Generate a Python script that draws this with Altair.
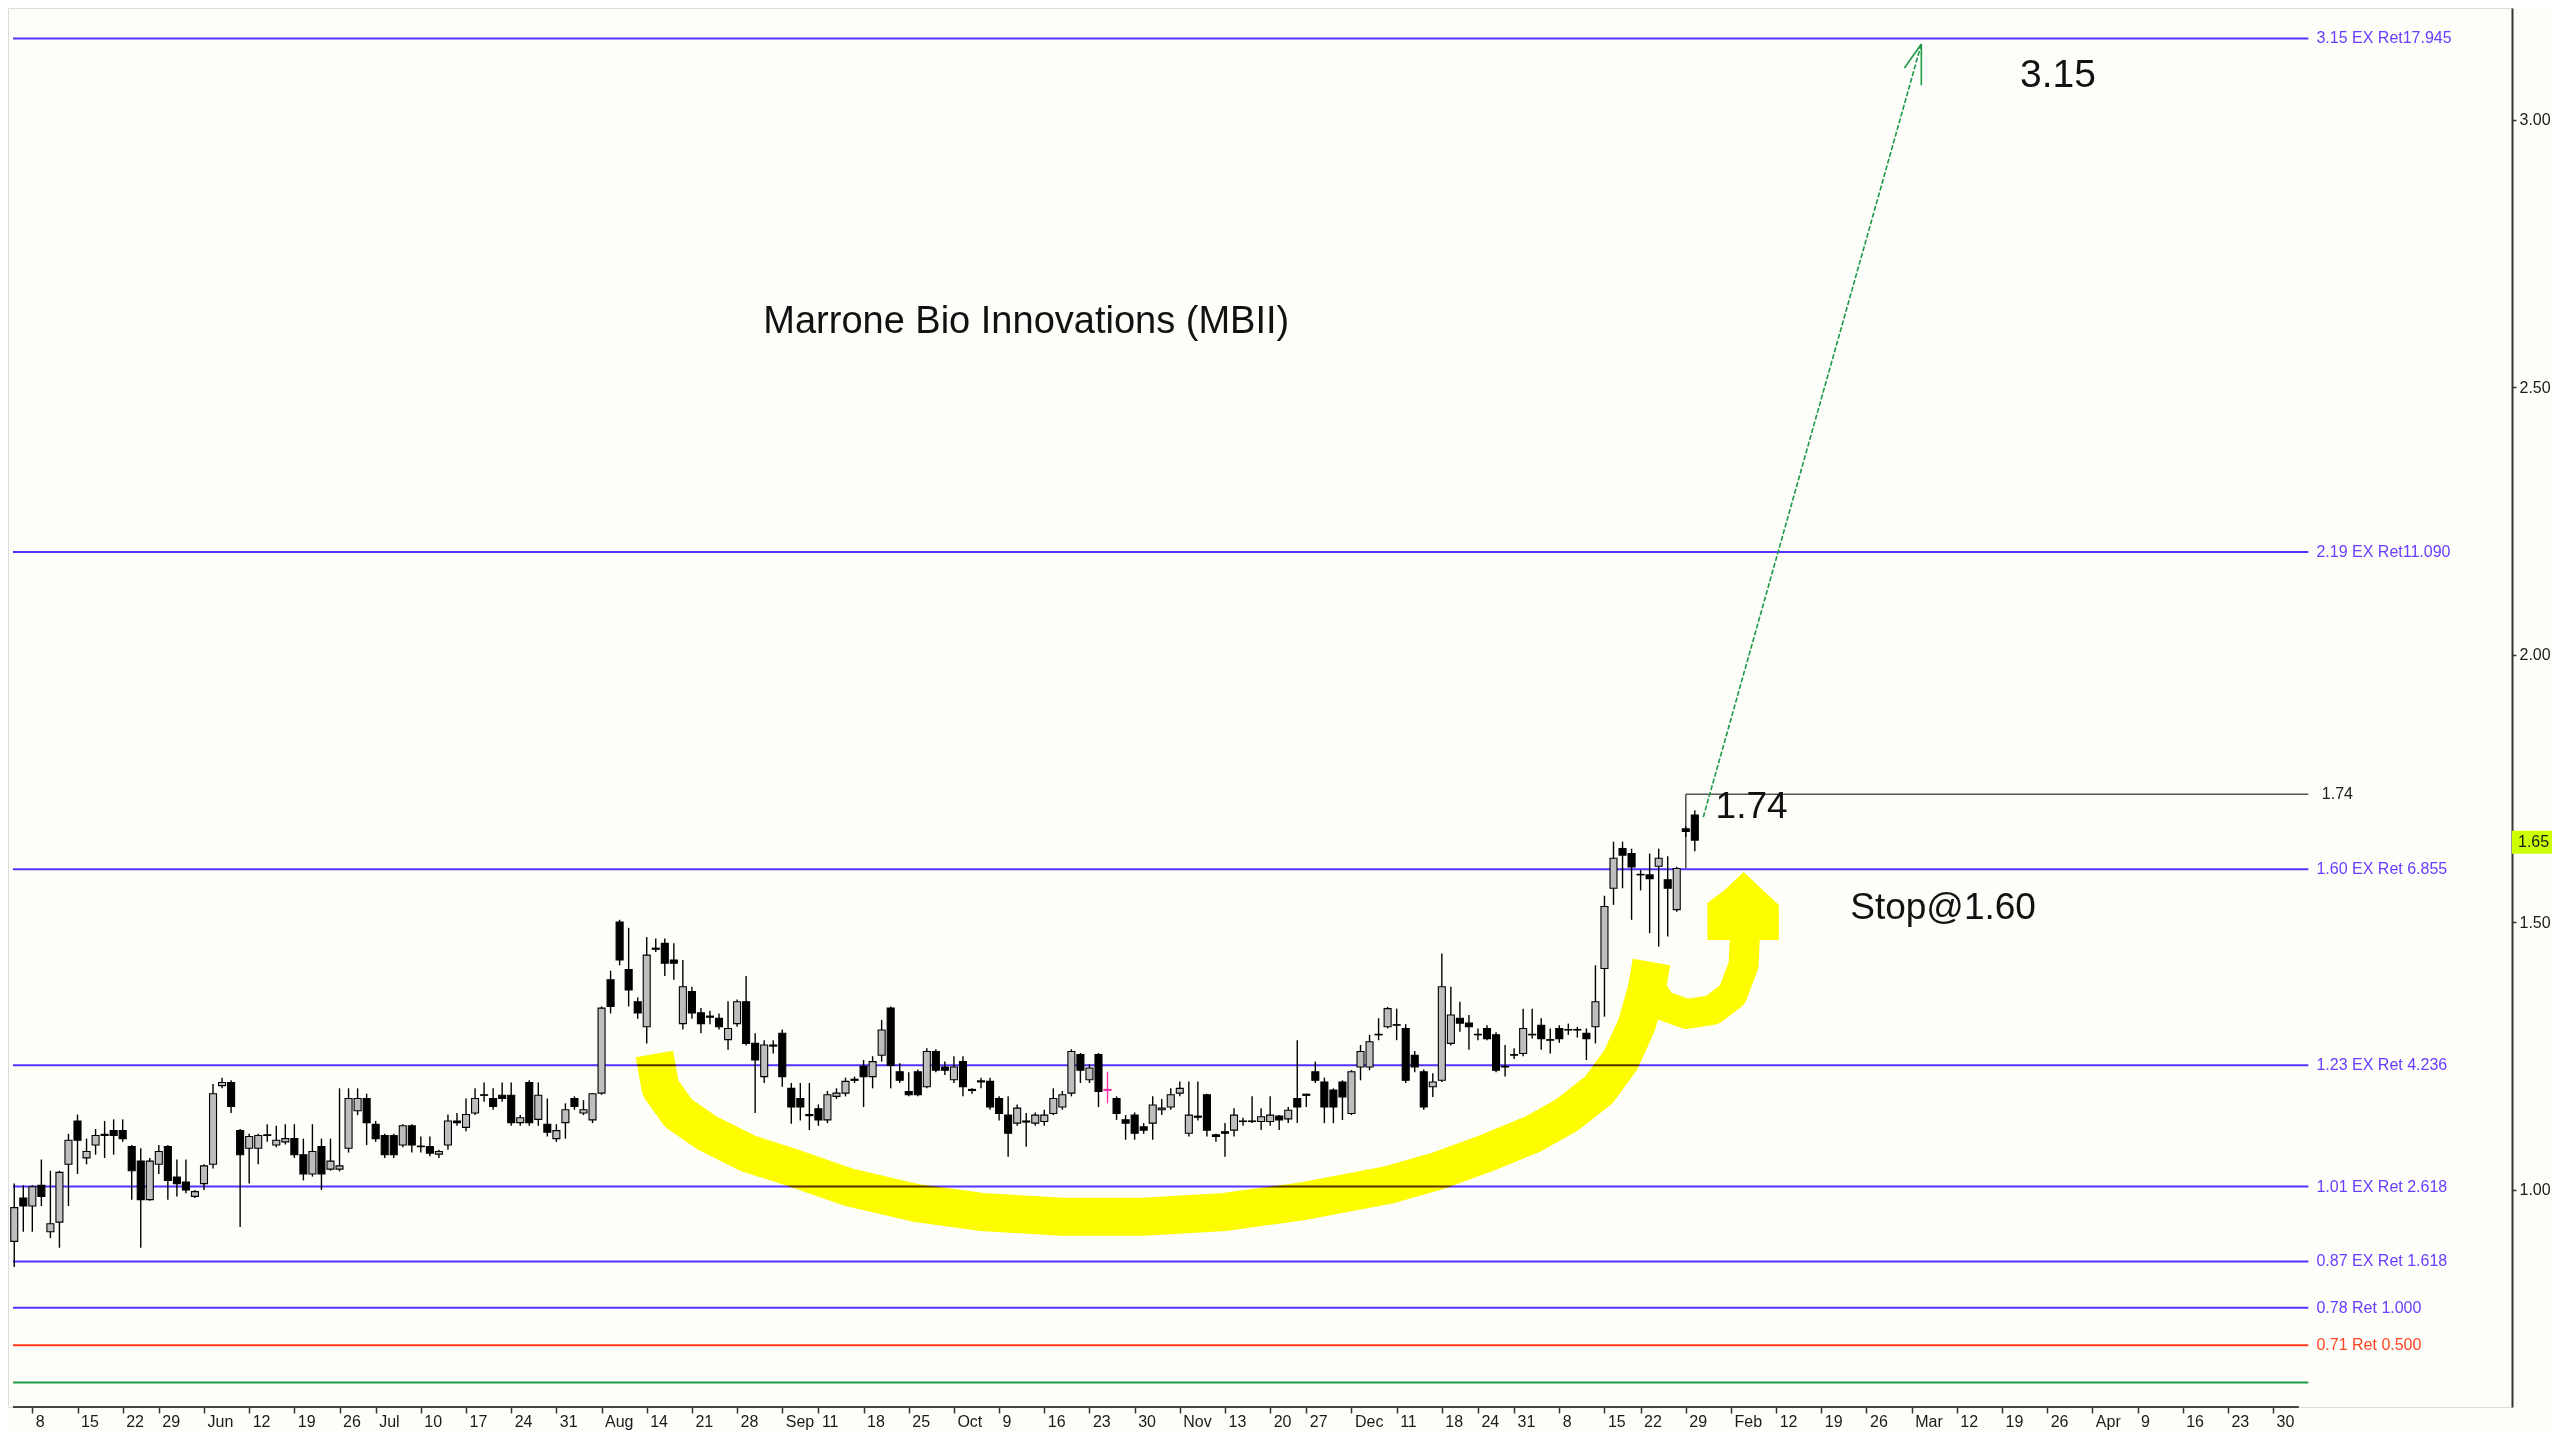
import json
import altair as alt
import pandas as pd

FONT = "Liberation Sans"

# ---------------- x axis: bar index (1 bar = 1 trading day, 0 = May 8 2017) ----------------
tick_idx = [0, 5, 10, 14, 19, 24, 29, 34, 38, 43, 48, 53, 58, 63, 68, 73, 78, 83, 87,
            92, 97, 102, 107, 112, 117, 122, 127, 132, 137, 141, 146, 151, 156, 160, 164, 169, 174, 178, 183,
            188, 193, 198, 203, 208, 213, 218, 223, 228, 233, 238, 243, 248]
tick_lab = ["8", "15", "22", "29", "Jun", "12", "19", "26", "Jul", "10", "17", "24", "31", "Aug", "14", "21", "28", "Sep", "11",
            "18", "25", "Oct", "9", "16", "23", "30", "Nov", "13", "20", "27", "Dec", "11", "18", "24", "31", "8", "15", "22", "29",
            "Feb", "12", "19", "26", "Mar", "12", "19", "26", "Apr", "9", "16", "23", "30"]
price_ticks = [1.0, 1.5, 2.0, 2.5, 3.0]

# ---------------- daily candles, bar index -2 .. 184 ----------------
first_bar = -2
opens = [
    0.904, 0.985, 0.970, 1.009, 0.922, 0.940, 1.048, 1.129, 1.060, 1.084, 1.104, 1.111, 1.111, 1.081, 1.054, 0.982,
    1.048, 1.081, 1.024, 1.015, 0.988, 1.012, 1.048, 1.195, 1.201, 1.111, 1.078, 1.078, 1.103, 1.084, 1.090, 1.096,
    1.066, 1.030, 1.081, 1.039, 1.039, 1.078, 1.148, 1.171, 1.123, 1.102, 1.102, 1.084, 1.120, 1.082, 1.081, 1.067,
    1.084, 1.129, 1.117, 1.144, 1.178, 1.171, 1.177, 1.177, 1.126, 1.201, 1.132, 1.123, 1.096, 1.126, 1.171, 1.144,
    1.131, 1.181,
    1.393, 1.501, 1.412, 1.352, 1.305, 1.452, 1.461, 1.430, 1.311, 1.371, 1.331, 1.325, 1.321, 1.281, 1.311, 1.352,
    1.274, 1.212, 1.271, 1.293, 1.190, 1.171, 1.141, 1.152, 1.131, 1.175, 1.181, 1.207, 1.231, 1.212, 1.252, 1.340,
    1.221, 1.184, 1.221, 1.193, 1.259, 1.230, 1.206, 1.240, 1.188, 1.204, 1.203, 1.171, 1.140, 1.125, 1.129, 1.125,
    1.128, 1.143, 1.155, 1.181, 1.253, 1.206, 1.253, 1.188, 1.171, 1.131, 1.140, 1.118, 1.125, 1.150, 1.155, 1.181,
    1.106, 1.138, 1.178, 1.103, 1.109, 1.112, 1.129, 1.129, 1.128, 1.128,
    1.138, 1.133, 1.171, 1.179, 1.221, 1.202, 1.187, 1.202, 1.143, 1.230, 1.230, 1.291, 1.305, 1.309, 1.302, 1.252,
    1.221, 1.193, 1.205, 1.274, 1.321, 1.312, 1.291, 1.302, 1.290, 1.231, 1.253, 1.255, 1.291, 1.308, 1.281, 1.302,
    1.300, 1.300, 1.293, 1.305, 1.414, 1.564, 1.638, 1.629, 1.590, 1.589, 1.605, 1.580, 1.524, 1.675, 1.701]
highs = [
    1.012, 1.009, 1.009, 1.057, 1.036, 1.036, 1.105, 1.141, 1.096, 1.114, 1.129, 1.132, 1.132, 1.084, 1.078, 1.060,
    1.084, 1.084, 1.057, 1.057, 1.000, 1.048, 1.198, 1.210, 1.205, 1.114, 1.105, 1.105, 1.123, 1.120, 1.123, 1.123,
    1.096, 1.123, 1.096, 1.096, 1.190, 1.190, 1.190, 1.180, 1.129, 1.105, 1.105, 1.123, 1.123, 1.100, 1.100, 1.075,
    1.141, 1.144, 1.171, 1.190, 1.201, 1.190, 1.201, 1.201, 1.140, 1.205, 1.201, 1.171, 1.123, 1.162, 1.175, 1.168,
    1.181, 1.343,
    1.410, 1.505, 1.490, 1.360, 1.473, 1.470, 1.470, 1.461, 1.430, 1.380, 1.340, 1.335, 1.330, 1.353, 1.356, 1.400,
    1.293, 1.280, 1.280, 1.300, 1.200, 1.200, 1.200, 1.160, 1.185, 1.190, 1.210, 1.212, 1.243, 1.250, 1.318, 1.343,
    1.237, 1.220, 1.225, 1.265, 1.263, 1.240, 1.250, 1.250, 1.190, 1.210, 1.210, 1.175, 1.175, 1.160, 1.144, 1.145,
    1.150, 1.190, 1.185, 1.263, 1.256, 1.235, 1.256, 1.221, 1.175, 1.140, 1.145, 1.125, 1.175, 1.170, 1.190, 1.203,
    1.203, 1.203, 1.180, 1.105, 1.125, 1.153, 1.135, 1.175, 1.153, 1.175,
    1.140, 1.155, 1.280, 1.180, 1.240, 1.210, 1.190, 1.205, 1.224, 1.271, 1.290, 1.321, 1.342, 1.339, 1.310, 1.260,
    1.225, 1.218, 1.442, 1.380, 1.352, 1.327, 1.302, 1.308, 1.295, 1.271, 1.265, 1.339, 1.339, 1.321, 1.302, 1.308,
    1.311, 1.305, 1.302, 1.420, 1.550, 1.651, 1.651, 1.638, 1.598, 1.629, 1.638, 1.624, 1.604, 1.680, 1.710]
lows = [
    0.856, 0.922, 0.922, 0.970, 0.910, 0.892, 0.970, 1.030, 1.048, 1.066, 1.060, 1.066, 1.090, 0.982, 0.892, 0.980,
    1.030, 0.982, 0.988, 0.994, 0.985, 1.000, 1.040, 1.190, 1.144, 0.931, 1.012, 1.048, 1.090, 1.080, 1.085, 1.060,
    1.018, 1.025, 1.000, 1.036, 1.035, 1.070, 1.140, 1.084, 1.090, 1.060, 1.060, 1.080, 1.070, 1.070, 1.063, 1.060,
    1.075, 1.120, 1.110, 1.140, 1.165, 1.150, 1.165, 1.120, 1.120, 1.120, 1.120, 1.100, 1.090, 1.096, 1.150, 1.140,
    1.125, 1.178,
    1.330, 1.420, 1.343, 1.320, 1.274, 1.445, 1.400, 1.393, 1.300, 1.320, 1.293, 1.310, 1.300, 1.262, 1.305, 1.270,
    1.144, 1.200, 1.255, 1.193, 1.124, 1.130, 1.112, 1.120, 1.125, 1.170, 1.175, 1.200, 1.155, 1.190, 1.240, 1.190,
    1.200, 1.175, 1.175, 1.190, 1.220, 1.215, 1.200, 1.175, 1.180, 1.190, 1.150, 1.130, 1.062, 1.120, 1.081, 1.120,
    1.120, 1.140, 1.150, 1.175, 1.200, 1.200, 1.155, 1.162, 1.131, 1.094, 1.094, 1.105, 1.094, 1.140, 1.150, 1.175,
    1.100, 1.130, 1.100, 1.090, 1.062, 1.100, 1.120, 1.125, 1.112, 1.120,
    1.112, 1.125, 1.125, 1.155, 1.200, 1.125, 1.125, 1.131, 1.140, 1.205, 1.224, 1.280, 1.302, 1.280, 1.200, 1.220,
    1.150, 1.174, 1.202, 1.270, 1.296, 1.262, 1.280, 1.280, 1.220, 1.212, 1.245, 1.250, 1.283, 1.262, 1.255, 1.275,
    1.290, 1.285, 1.243, 1.274, 1.324, 1.533, 1.564, 1.505, 1.560, 1.480, 1.455, 1.474, 1.520, 1.660, 1.633]
closes = [
    0.967, 0.970, 1.006, 0.988, 0.937, 1.033, 1.093, 1.093, 1.072, 1.102, 1.102, 1.102, 1.096, 1.036, 0.982, 1.054,
    1.072, 1.018, 1.012, 1.000, 0.997, 1.045, 1.180, 1.201, 1.156, 1.066, 1.100, 1.102, 1.102, 1.093, 1.096, 1.066,
    1.030, 1.072, 1.030, 1.054, 1.045, 1.171, 1.171, 1.126, 1.096, 1.066, 1.066, 1.120, 1.084, 1.081, 1.069, 1.072,
    1.129, 1.126, 1.141, 1.171, 1.177, 1.156, 1.171, 1.126, 1.135, 1.126, 1.177, 1.108, 1.111, 1.150, 1.156, 1.150,
    1.180, 1.340,
    1.343, 1.430, 1.374, 1.331, 1.439, 1.450, 1.424, 1.424, 1.380, 1.331, 1.311, 1.323, 1.305, 1.302, 1.352, 1.274,
    1.243, 1.271, 1.269, 1.212, 1.155, 1.155, 1.139, 1.131, 1.178, 1.181, 1.203, 1.205, 1.212, 1.240, 1.299, 1.233,
    1.205, 1.178, 1.178, 1.259, 1.224, 1.224, 1.230, 1.193, 1.186, 1.202, 1.155, 1.143, 1.106, 1.153, 1.127, 1.140,
    1.140, 1.171, 1.178, 1.259, 1.224, 1.228, 1.184, 1.186, 1.143, 1.125, 1.106, 1.112, 1.159, 1.153, 1.178, 1.190,
    1.140, 1.136, 1.112, 1.100, 1.106, 1.140, 1.128, 1.128, 1.137, 1.140,
    1.131, 1.149, 1.155, 1.177, 1.205, 1.155, 1.155, 1.174, 1.221, 1.259, 1.277, 1.290, 1.339, 1.308, 1.205, 1.230,
    1.155, 1.202, 1.380, 1.327, 1.312, 1.305, 1.290, 1.283, 1.224, 1.230, 1.252, 1.302, 1.290, 1.283, 1.280, 1.283,
    1.299, 1.299, 1.283, 1.352, 1.530, 1.620, 1.626, 1.604, 1.589, 1.582, 1.620, 1.564, 1.601, 1.670, 1.654]
highlight_bar = 119   # the magenta bar
current_price = 1.65

# ---------------- fibonacci levels ----------------
level_vals = [3.1523, 2.1926, 1.5997, 1.2330, 1.0065, 0.8665, 0.7800, 0.7100, 0.6400]
level_labs = ["3.15 EX Ret17.945", "2.19 EX Ret11.090", "1.60 EX Ret 6.855", "1.23 EX Ret 4.236",
              "1.01 EX Ret 2.618", "0.87 EX Ret 1.618", "0.78 Ret 1.000", "0.71 Ret 0.500", ""]
level_cols = ["#5533ff"] * 7 + ["#ff3b1f", "#1f9a46"]
level_txt_cols = ["#6a3dff"] * 7 + ["#ff4422", "#1f9a46"]
level_end = 251.9
label_x = 252.8

# 1.74 target line (vertical + horizontal)
t174_x = [183.0, 183.0]
t174_x2 = [183.0, 251.9]
t174_y = [1.6013, 1.7396]
t174_y2 = [1.7396, 1.7396]

# green projection arrow
arrow_x = [184.94]
arrow_y = [1.697]
arrow_tip_x = [209.07]
arrow_tip_y = [3.142]
wing_x = [207.2, 209.07]
wing_y = [3.097, 3.065]

# yellow hand-drawn stroke (bar index, price)
y1_x = [68.85, 69.52, 71.50, 74.70, 79.11, 84.07, 90.57, 97.74, 105.01, 113.95, 122.98, 132.02, 140.95,
        149.99, 155.40, 160.80, 166.20, 169.84, 173.37, 175.80, 177.56, 178.66, 179.21]
y1_y = [1.2542, 1.1907, 1.1439, 1.1065, 1.0690, 1.0420, 1.0040, 0.9760, 0.9590, 0.9500, 0.9500, 0.9590, 0.9800,
        1.0090, 1.0350, 1.0680, 1.1055, 1.1402, 1.1869, 1.2430, 1.3084, 1.3738, 1.4262]
y2_x = [178.88, 180.31, 183.07, 185.93, 188.14, 189.40, 189.60]
y2_y = [1.3832, 1.3458, 1.3290, 1.3364, 1.3645, 1.4206, 1.4953]
yh_x = [185.40, 187.30, 189.40, 191.40, 193.30]
yh_top = [1.5364, 1.5607, 1.5944, 1.5626, 1.5327]
yh_bot = [1.4673] * 5

# annotations
ann_text = ["Marrone Bio Innovations (MBII)", "3.15", "1.74", "Stop@1.60"]
ann_x = [80.9, 220.0, 186.3, 201.2]
ann_y = [2.6019, 3.0617, 1.6953, 1.5065]
ann_size = [38, 39, 37, 37]

# ---------------- scales / axes ----------------
X_DOM = [-2.139, 273.89]
Y_DOM = [0.5944, 3.2093]
W, H = 2504, 1399

label_expr = json.dumps(tick_lab) + "[indexof(" + json.dumps(tick_idx) + ", datum.value)]"
xs = alt.Scale(domain=X_DOM, nice=False, zero=False)
ys = alt.Scale(domain=Y_DOM, nice=False, zero=False)
xaxis = alt.Axis(values=tick_idx, labelExpr=label_expr, title=None, grid=False, domain=False,
                 tickSize=6, tickColor="#333333", tickWidth=1.5, labelAlign="left", labelOffset=3,
                 labelPadding=0, labelFont=FONT, labelFontSize=16, labelColor="#1a1a1a",
                 labelOverlap=False, labelFlush=False)
yaxis = alt.Axis(orient="right", values=price_ticks, format=".2f", title=None, grid=False,
                 domainColor="#333333", domainWidth=2, tickColor="#333333", tickSize=4, tickWidth=1.5,
                 labelFont=FONT, labelFontSize=16, labelColor="#1a1a1a", labelPadding=3)


def X(f):
    return alt.X(f, type="quantitative", scale=xs, axis=xaxis)


def Y(f):
    return alt.Y(f, type="quantitative", scale=ys, axis=yaxis)


# ---------------- data frames ----------------
n = len(opens)
assert len(highs) == n and len(lows) == n and len(closes) == n, (len(opens), len(highs), len(lows), len(closes))
bars = pd.DataFrame({"j": list(range(first_bar, first_bar + n)), "o": opens, "h": highs, "l": lows, "c": closes})
bars["fill"] = ["#bebebe" if c >= o else "#000000" for o, c in zip(bars.o, bars.c)]
bars["edge"] = "#000000"
bars.loc[bars.j == highlight_bar, ["fill", "edge"]] = "#ff2fa8"

levels = pd.DataFrame({"v": level_vals, "lab": level_labs, "col": level_cols, "tcol": level_txt_cols})
levels["x0"] = X_DOM[0]
levels["x1"] = level_end
levels["xl"] = label_x

base_axis = pd.DataFrame({"a": [X_DOM[0]], "b": [250.85], "y": [Y_DOM[0]]})

t174 = pd.DataFrame({"x": t174_x, "x2": t174_x2, "y": t174_y, "y2": t174_y2})
t174_lab = pd.DataFrame({"x": [253.4], "y": [1.7396], "t": ["1.74"]})

shaft = pd.DataFrame({"x": arrow_x, "x2": arrow_tip_x, "y": arrow_y, "y2": arrow_tip_y})
wings = pd.DataFrame({"x": wing_x, "y": wing_y, "x2": arrow_tip_x * 2, "y2": arrow_tip_y * 2})

yel1 = pd.DataFrame({"x": y1_x, "y": y1_y, "k": range(len(y1_x))})
yel2 = pd.DataFrame({"x": y2_x, "y": y2_y, "k": range(len(y2_x))})
yelh = pd.DataFrame({"x": yh_x, "y": yh_top, "y2": yh_bot})

ann = pd.DataFrame({"x": ann_x, "y": ann_y, "t": ann_text, "s": ann_size})

px_per_unit = H / (Y_DOM[1] - Y_DOM[0])
tag = pd.DataFrame({"p": [current_price], "lo": [current_price - 11.5 / px_per_unit],
                    "hi": [current_price + 11.5 / px_per_unit], "t": ["1.65"]})

# ---------------- layers ----------------
lvl_lines = alt.Chart(levels).mark_rule(strokeWidth=2).encode(
    x=X("x0"), x2="x1", y=Y("v"), color=alt.Color("col:N", scale=None))
lvl_text = alt.Chart(levels).mark_text(align="left", baseline="middle", font=FONT, fontSize=16).encode(
    x=X("xl"), y=Y("v"), text="lab:N", color=alt.Color("tcol:N", scale=None))
axis_line = alt.Chart(base_axis).mark_rule(color="#444444", strokeWidth=2).encode(
    x=X("a"), x2="b", y=Y("y"))

wicks = alt.Chart(bars).mark_rule(strokeWidth=1.4, clip=True).encode(
    x=X("j"), y=Y("l"), y2="h", color=alt.Color("edge:N", scale=None))
bodies = alt.Chart(bars).mark_bar(size=7, strokeWidth=1.1, clip=True).encode(
    x=X("j"), y=Y("o"), y2="c", fill=alt.Fill("fill:N", scale=None), stroke=alt.Stroke("edge:N", scale=None))

t174_line = alt.Chart(t174).mark_rule(color="#555555", strokeWidth=1.6).encode(
    x=X("x"), x2="x2", y=Y("y"), y2="y2")
t174_text = alt.Chart(t174_lab).mark_text(align="left", baseline="middle", font=FONT, fontSize=16,
                                          color="#222222").encode(x=X("x"), y=Y("y"), text="t:N")

arrow_shaft = alt.Chart(shaft).mark_rule(color="#1d9a47", strokeWidth=1.6, strokeDash=[5, 2]).encode(
    x=X("x"), x2="x2", y=Y("y"), y2="y2")
arrow_wings = alt.Chart(wings).mark_rule(color="#1d9a47", strokeWidth=1.6).encode(
    x=X("x"), x2="x2", y=Y("y"), y2="y2")

yellow1 = alt.Chart(yel1).mark_line(color="#ffff00", strokeWidth=38, strokeCap="butt", strokeJoin="round",
                                    blend="multiply").encode(x=X("x"), y=Y("y"), order="k:Q")
yellow2 = alt.Chart(yel2).mark_line(color="#ffff00", strokeWidth=30, strokeCap="butt", strokeJoin="round",
                                    blend="multiply").encode(x=X("x"), y=Y("y"), order="k:Q")
yellowh = alt.Chart(yelh).mark_area(color="#ffff00", blend="multiply", opacity=1).encode(
    x=X("x"), y=Y("y"), y2="y2")

ann_layer = alt.Chart(ann).mark_text(align="left", baseline="alphabetic", font=FONT, color="#111111").encode(
    x=X("x"), y=Y("y"), text="t:N", size=alt.Size("s:Q", scale=None, legend=None))

tag_rect = alt.Chart(tag).mark_rect(color="#ccff00").encode(
    x=alt.value(W), x2=alt.value(W + 40), y=Y("lo"), y2="hi")
tag_text = alt.Chart(tag).mark_text(align="left", baseline="middle", font=FONT, fontSize=16,
                                    color="#1a1a1a").encode(x=alt.value(W + 6), y=Y("p"), text="t:N")

chart = alt.layer(
    lvl_lines, lvl_text, axis_line, t174_line, t174_text, wicks, bodies,
    arrow_shaft, arrow_wings, yellow1, yellow2, yellowh, ann_layer, tag_rect, tag_text
).properties(
    width=W, height=H,
    autosize=alt.AutoSizeParams(type="none"),
    padding={"left": 0, "top": 0, "right": 40, "bottom": 24},
).configure_view(stroke=None, fill="#fdfdfa").configure(background="#fdfdfa")

chart.save("out.html", embed_options={"renderer": "svg", "actions": False})
